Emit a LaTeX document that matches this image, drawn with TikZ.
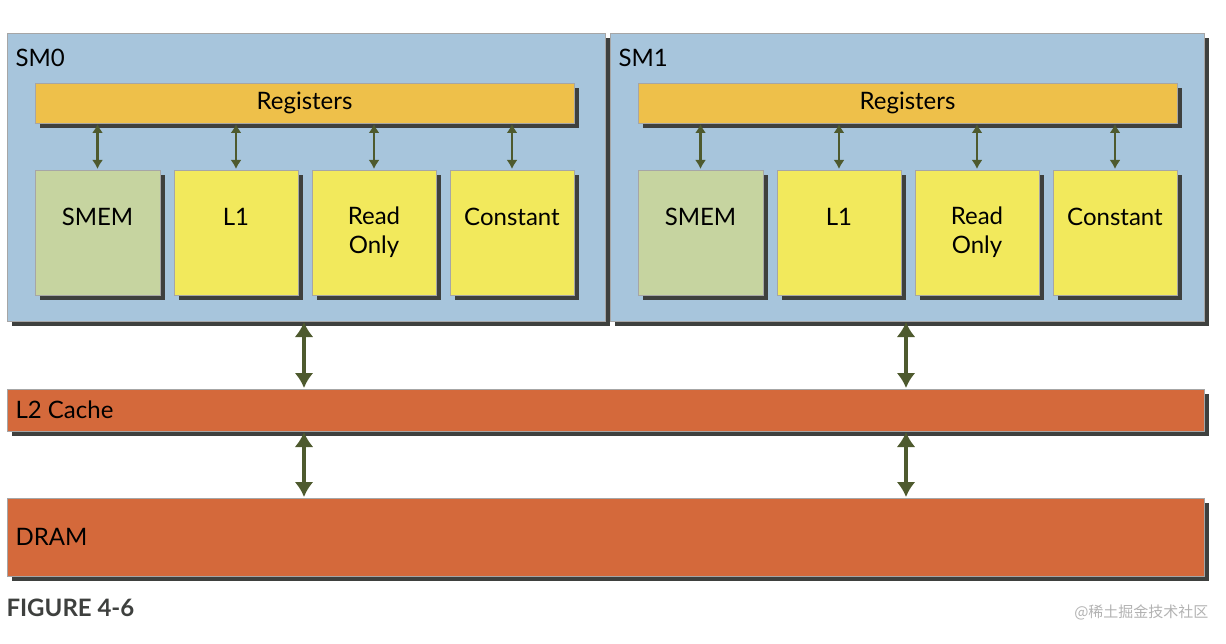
\documentclass[tikz,border=0pt]{standalone}
\usepackage{fontspec}
\setmainfont{Lato}
\newfontfamily\cjk{Noto Sans CJK SC}
\usetikzlibrary{arrows.meta}
\definecolor{smblue}{HTML}{A7C5DC}
\definecolor{regc}{HTML}{EEC04A}
\definecolor{smemc}{HTML}{C6D4A0}
\definecolor{yel}{HTML}{F2E95C}
\definecolor{orng}{HTML}{D4693B}
\definecolor{arr}{HTML}{4E5A2E}
\definecolor{shad}{HTML}{3E403E}
\begin{document}
\begin{tikzpicture}[x=1pt,y=-1pt,
  box/.style={draw=gray!70,line width=0.6pt},
  lbl/.style={font=\fontsize{24}{29}\selectfont,align=center},
  sa/.style={arr,line width=2.4pt,{Latex[length=9pt,width=11pt]}-{Latex[length=9pt,width=11pt]}},
  ba/.style={arr,line width=4.5pt,{Latex[length=15pt,width=19pt]}-{Latex[length=15pt,width=19pt]}}]
\useasboundingbox (0,0) rectangle (1226,644);
\newcommand{\shbox}[6]{% name, x1,y1,x2,y2, color
  \fill[shad] ({#2+5},{#3+5}) rectangle ({#4+5},{#5+5});
  \node[box,fill=#6,minimum width={((#4)-(#2))*1pt},minimum height={((#5)-(#3))*1pt},inner sep=0,outer sep=0,anchor=north west] (#1) at ({#2},{#3}) {};}
\shbox{sm0}{7}{33}{605}{321}{smblue}
\shbox{sm1}{610}{33}{1204}{321}{smblue}
\node[lbl,anchor=west] at (12,58) {SM0};
\node[lbl,anchor=west] at (615,58) {SM1};
\foreach \s/\o in {0/0,1/603}{
  \shbox{reg\s}{35+\o}{83}{574+\o}{123}{regc}
  \node[lbl] at (reg\s) {Registers};
  \shbox{smem\s}{35+\o}{170}{160+\o}{295}{smemc}
  \shbox{lone\s}{174+\o}{170}{298+\o}{295}{yel}
  \shbox{ro\s}{312+\o}{170}{436+\o}{295}{yel}
  \shbox{con\s}{450+\o}{170}{574+\o}{295}{yel}
  \node[lbl] at ([yshift=-47pt]smem\s.north) {SMEM};
  \node[lbl] at ([yshift=-47pt]lone\s.north) {L1};
  \node[lbl] at ([yshift=-62pt]ro\s.north) {Read\\Only};
  \node[lbl] at ([yshift=-47pt]con\s.north) {Constant};
  \foreach \b in {smem,lone,ro,con}{
    \draw[sa] (\b\s.north |- reg\s.south) ++(0,1) -- ([yshift=1pt]\b\s.north);}
}
\shbox{ltwo}{7}{389}{1204}{431}{orng}
\node[lbl,anchor=west] at (12,410) {L2 Cache};
\shbox{dram}{7}{498}{1204}{576}{orng}
\node[lbl,anchor=west] at (12,537) {DRAM};
\coordinate (a0) at (304,0); \coordinate (a1) at (906,0);
\foreach \c in {a0,a1}{
  \draw[ba] (\c |- sm0.south) ++(0,1) -- ([yshift=1pt]\c |- ltwo.north);
  \draw[ba] (\c |- ltwo.south) ++(0,1) -- ([yshift=1pt]\c |- dram.north);}
\node[anchor=west,font=\bfseries\fontsize{24}{26}\selectfont,text=shad] at (3,608) {FIGURE 4-6};
\node[anchor=east,font=\cjk\fontsize{15}{17}\selectfont,text=gray!60] at (1212,612) {@稀土掘金技术社区};
\end{tikzpicture}
\end{document}
